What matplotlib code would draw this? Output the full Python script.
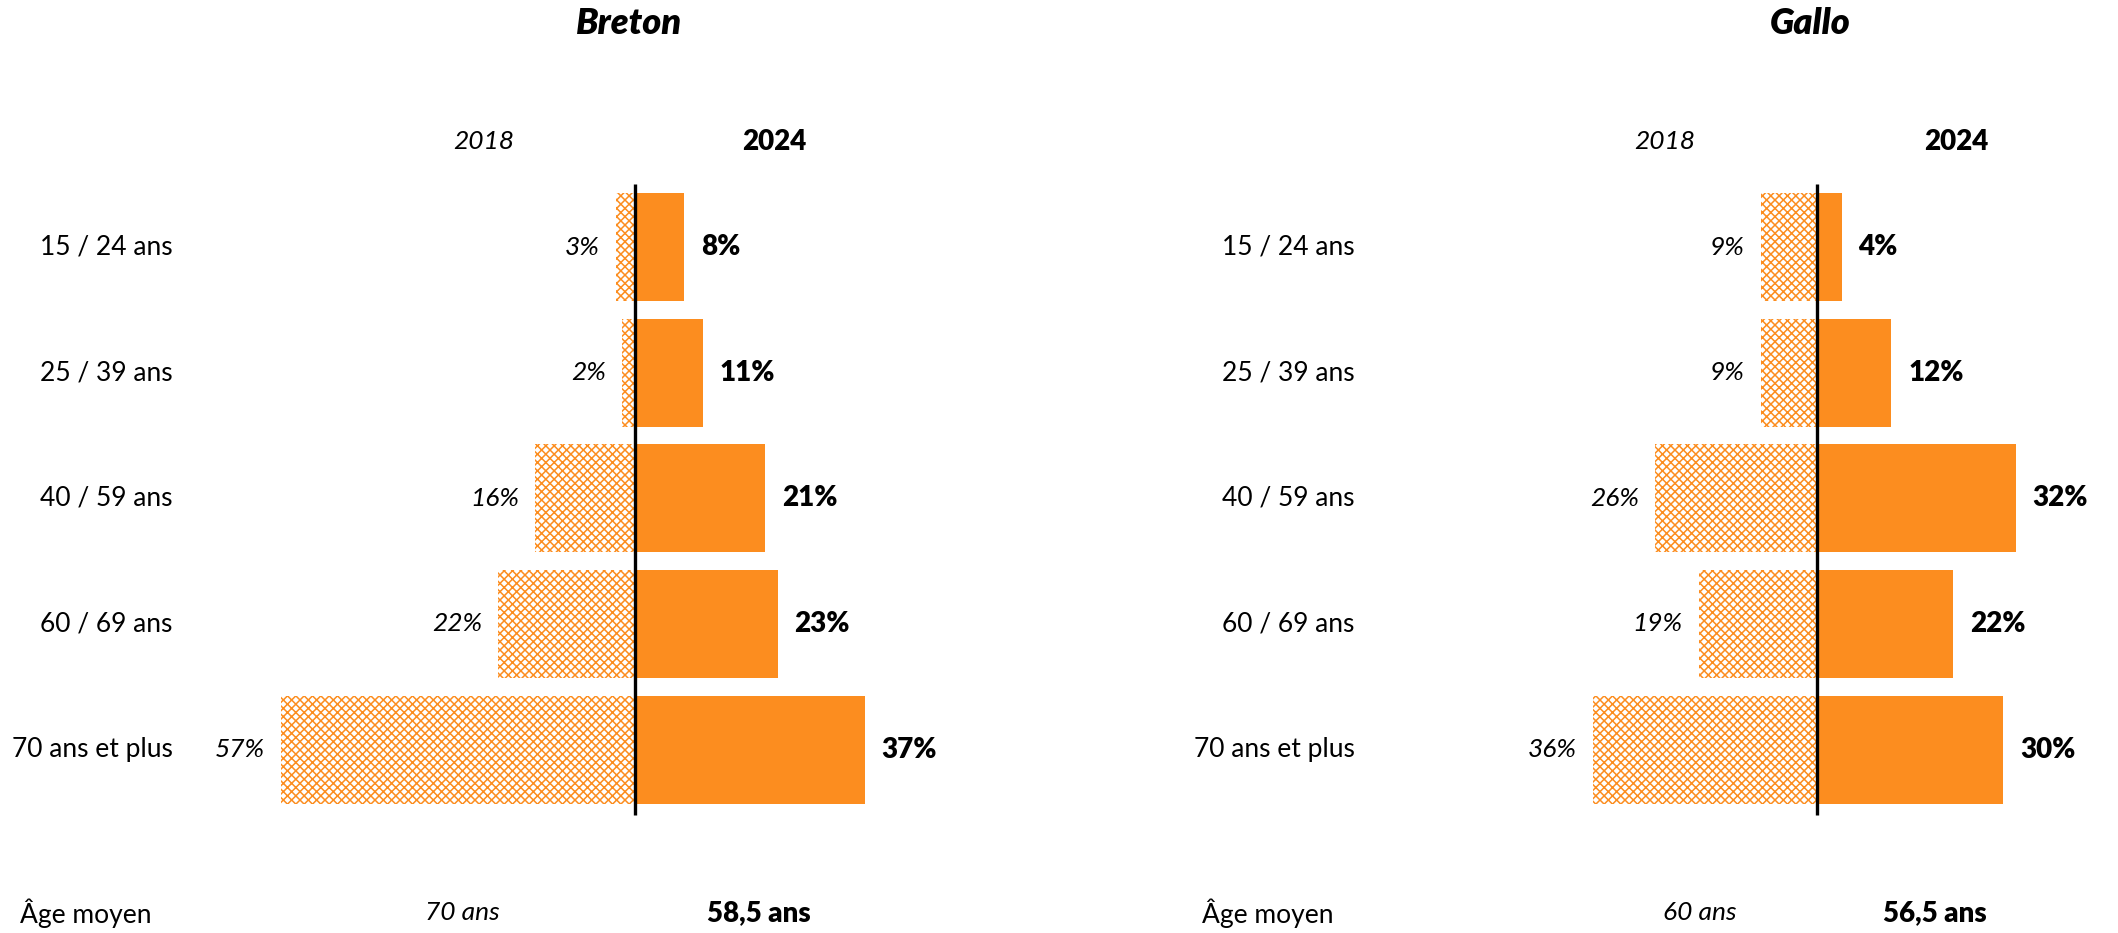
import numpy as np
import matplotlib.pyplot as plt

plt.rcParams['font.family'] = ['Lato', 'DejaVu Sans']
plt.rcParams['hatch.linewidth'] = 1.1

categories = ["15 / 24 ans", "25 / 39 ans", "40 / 59 ans", "60 / 69 ans", "70 ans et plus"]
languages = ["Breton", "Gallo"]
breton_2018 = [3, 2, 16, 22, 57]
breton_2024 = [8, 11, 21, 23, 37]
gallo_2018 = [9, 9, 26, 19, 36]
gallo_2024 = [4, 12, 32, 22, 30]
age_2018 = ["70 ans", "60 ans"]
age_2024 = ["58,5 ans", "56,5 ans"]

ORANGE = '#FC8D1F'

fig = plt.figure(figsize=(21.18, 9.33), dpi=100)

# each panel: rect in figure fraction, x limits in %
panels = [
    dict(rect=[0.0, 0.0, 0.5, 1.0], xlim=(-102.2, 68.3), v18=breton_2018, v24=breton_2024,
         age_x=(-27.7, 20.0)),
    dict(rect=[0.5, 0.0, 0.5, 1.0], xlim=(-122.0, 48.5), v18=gallo_2018, v24=gallo_2024,
         age_x=(-18.9, 19.0)),
]

y = np.arange(len(categories))
FS = 19

for k, p in enumerate(panels):
    ax = fig.add_axes(p['rect'])
    ax.set_xlim(*p['xlim'])
    ax.set_ylim(5.46, -1.967)
    ax.axis('off')

    v18 = np.array(p['v18'])
    v24 = np.array(p['v24'])

    ax.barh(y, -v18, height=0.86, color='white', edgecolor=ORANGE, hatch='xxxx',
            linewidth=0)
    ax.barh(y, v24, height=0.86, color=ORANGE, linewidth=0)
    ax.plot([0, 0], [-0.5, 4.52], color='black', lw=2.4, solid_capstyle='butt')

    for i, cat in enumerate(categories):
        ax.text(-74.4, i, cat, ha='right', va='center', fontsize=FS)
        ax.text(-v18[i] - 2.6, i, f"{v18[i]}%", ha='right', va='center',
                fontsize=FS, style='italic')
        ax.text(v24[i] + 2.7, i, f"{v24[i]}%", ha='left', va='center',
                fontsize=FS + 1, weight='heavy')

    ax.text(-1, -1.78, languages[k], ha='center', va='center', fontsize=26,
            weight='heavy', style='italic')
    ax.text(-24.4, -0.84, "2018", ha='center', va='center', fontsize=FS, style='italic')
    ax.text(22.4, -0.84, "2024", ha='center', va='center', fontsize=FS + 1, weight='heavy')

    ax.text(-99, 5.30, "Âge moyen", ha='left', va='center', fontsize=FS)
    ax.text(p['age_x'][0], 5.30, age_2018[k], ha='center', va='center', fontsize=FS,
            style='italic')
    ax.text(p['age_x'][1], 5.30, age_2024[k], ha='center', va='center', fontsize=FS + 1,
            weight='heavy')

fig.savefig("out.png", dpi=100)
